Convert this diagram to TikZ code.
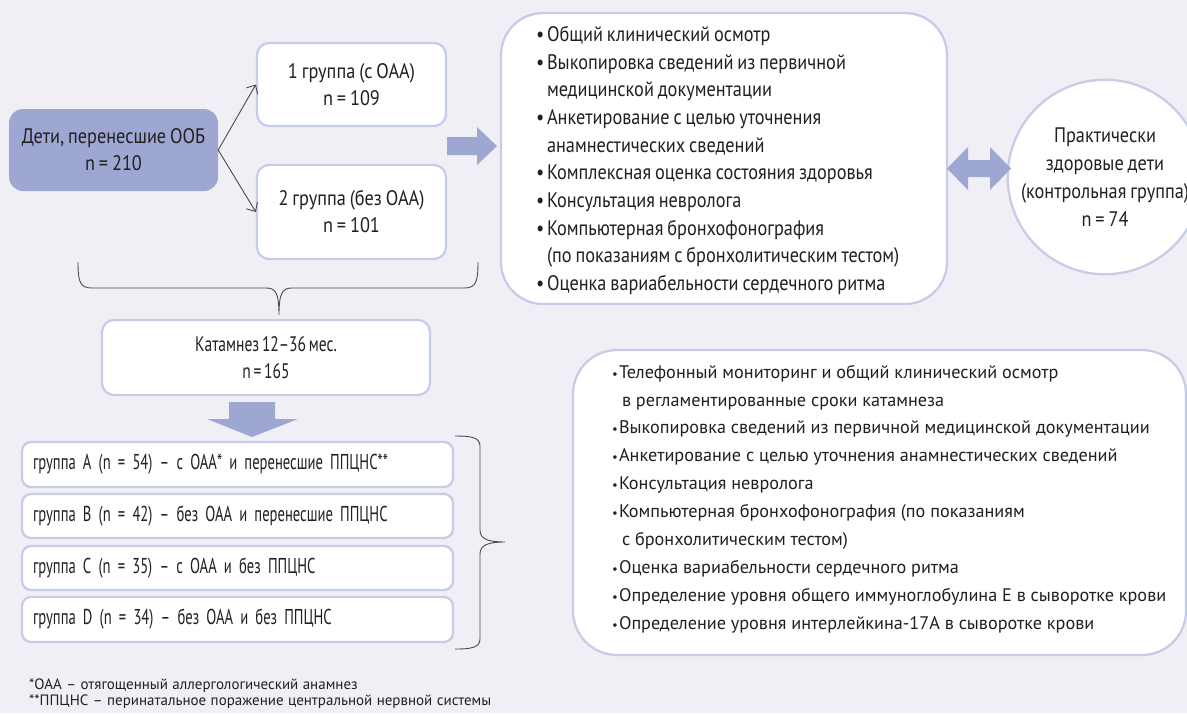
\documentclass[tikz,border=0pt]{standalone}
\usepackage{fontspec}
\setmainfont{PT Sans}
\newfontfamily\condf[FakeStretch=0.87, WordSpace=0.8]{PT Sans}
\newfontfamily\grpf[FakeStretch=0.68, WordSpace=0.85]{PT Sans}
\newfontfamily\katf[FakeStretch=0.74, WordSpace=0.65]{PT Sans}
\newfontfamily\notef[WordSpace=1.1]{PT Sans}
\usetikzlibrary{arrows.meta}
\definecolor{bg}{HTML}{F1EFF6}
\definecolor{edge}{HTML}{C6CDE8}
\definecolor{dark}{HTML}{9DA7D2}
\definecolor{ink}{HTML}{231F20}
\definecolor{bracec}{HTML}{4A4A4C}
\newcommand\bul[1]{\makebox[11pt][l]{•}#1}
\newcommand\cnt[1]{\hspace*{11pt}#1}
\newcommand\sbul[1]{\makebox[7pt][l]{\scalebox{0.7}{•}}#1}
\newcommand\scnt[1]{\hspace*{10pt}#1}
\begin{document}
\begin{tikzpicture}[x=1pt,y=-1pt,
  box/.style={draw=edge, line width=2.3pt, fill=white, rounded corners=12pt, inner sep=0pt,
    align=center, text=ink, font=\condf\fontsize{21}{27}\selectfont},
  darkbox/.style={fill=dark, rounded corners=14pt, inner sep=0pt, align=center, text=ink,
    font=\condf\fontsize{21}{27}\selectfont},
  grp/.style={box, rounded corners=9pt, text width=409pt, inner xsep=11pt, align=left,
    minimum height=44pt, font=\grpf\fontsize{21.5}{27}\selectfont},
  txt/.style={inner sep=0pt, align=left, text=ink},
  thin/.style={draw=bracec, line width=0.9pt},
  blk/.style={fill=dark}
]
\useasboundingbox (0,0) rectangle (1187,713);
\fill[bg] (0,0) rectangle (1187,713);

% left column
\node[darkbox, minimum width=209pt, minimum height=82pt] (kids) at (113.5,150) {Дети, перенесшие ООБ\\n = 210};
\node[box, minimum width=189pt, minimum height=83pt] (g1) at (351.5,84.5) {1 группа (с ОАА)\\n = 109};
\node[box, minimum width=189pt, minimum height=94pt] (g2) at (351.5,212) {2 группа (без ОАА)\\n = 101};
\draw[thin, -{Straight Barb[length=7pt,width=13pt]}] (kids.east) -- (g1.west);
\draw[thin, -{Straight Barb[length=7pt,width=13pt]}] (kids.east) -- (g2.west);

% top brace
\coordinate (bl) at (78,262);
\coordinate (br) at (478,262);
\coordinate (bt) at (279,315);
\draw[thin] (bl) .. controls (78,282) and (80,288) .. (92,288) -- (266,288)
  .. controls (275,288) and (279,292) .. (bt)
  .. controls (279,292) and (283,288) .. (292,288) -- (464,288)
  .. controls (476,288) and (478,282) .. (br);

\node[box, minimum width=328pt, minimum height=75pt, font=\katf\fontsize{21}{27}\selectfont] (kat) at (266,357.5) {Катамнез 12–36 мес.\\n = 165};

% down block arrow
\fill[blk] (229,402) -- (275,402) -- (275,419) -- (298,419) -- (252,437) -- (207,419) -- (229,419) -- cycle;

\node[grp, minimum height=45pt] (ga) at (237.5,464.5) {группа A (n = 54) – с ОАА* и перенесшие ППЦНС**};
\node[grp] (gb) at (237.5,516) {группа B (n = 42) – без ОАА и перенесшие ППЦНС};
\node[grp] (gc) at (237.5,568) {группа C (n = 35) – с ОАА и без ППЦНС};
\node[grp, minimum height=45pt] (gd) at (237.5,619.5) {группа D (n = 34) – без ОАА и без ППЦНС};

% right brace
\coordinate (rt) at (455,436);
\coordinate (rb) at (455,649);
\coordinate (rc) at (505,542);
\draw[thin] (rt) .. controls (470,436) and (480,437) .. (480,446) -- (480,530)
  .. controls (480,539) and (488,542) .. (rc)
  .. controls (488,542) and (480,545) .. (480,554) -- (480,639)
  .. controls (480,648) and (470,649) .. (rb);

% top methods box
\node[box, rounded corners=42pt, minimum width=446pt, minimum height=291pt] (m1) at (724,158.5) {};
\node[txt, anchor=west, font=\condf\fontsize{21}{27.7}\selectfont] (m1t) at ([xshift=36pt,yshift=-2pt]m1.west) {%
\bul{Общий клинический осмотр}\\
\bul{Выкопировка сведений из первичной}\\
\cnt{медицинской документации}\\
\bul{Анкетирование с целью уточнения}\\
\cnt{анамнестических сведений}\\
\bul{Комплексная оценка состояния здоровья}\\
\bul{Консультация невролога}\\
\bul{Компьютерная бронхофонография}\\
\cnt{(по показаниям с бронхолитическим тестом)}\\
\bul{Оценка вариабельности сердечного ритма}};

% right block arrow
\fill[blk] (447,137) -- (477,137) -- (477,127) -- (497,146) -- (477,165) -- (477,155) -- (447,155) -- cycle;

% control circle
\node[box, circle, minimum size=188pt, font=\condf\fontsize{21}{28}\selectfont] (ctrl) at (1105,177) {Практически\\здоровые дети\\(контрольная группа)\\n = 74};

% double arrow
\fill[blk] (947,168.5) -- (968,147) -- (968,160) -- (990,160) -- (990,147) -- (1011,168.5) -- (990,190) -- (990,177) -- (968,177) -- (968,190) -- cycle;

% bottom methods box
\node[box, rounded corners=44pt, minimum width=613pt, minimum height=305pt] (m2) at (879.5,502.5) {};
\node[txt, anchor=west, font=\fontsize{18.2}{27.9}\selectfont] (m2t) at ([xshift=40pt,yshift=3.5pt]m2.west) {%
\sbul{Телефонный мониторинг и общий клинический осмотр}\\
\scnt{в регламентированные сроки катамнеза}\\
\sbul{Выкопировка сведений из первичной медицинской документации}\\
\sbul{Анкетирование с целью уточнения анамнестических сведений}\\
\sbul{Консультация невролога}\\
\sbul{Компьютерная бронхофонография (по показаниям}\\
\scnt{с бронхолитическим тестом)}\\
\sbul{Оценка вариабельности сердечного ритма}\\
\sbul{Определение уровня общего иммуноглобулина Е в сыворотке крови}\\
\sbul{Определение уровня интерлейкина-17А в сыворотке крови}};

% footnotes
\node[txt, anchor=north west, font=\notef\fontsize{15}{16}\selectfont] (fn) at (29,679) {*ОАА – отягощенный аллергологический анамнез\\**ППЦНС – перинатальное поражение центральной нервной системы};
\end{tikzpicture}
\end{document}
